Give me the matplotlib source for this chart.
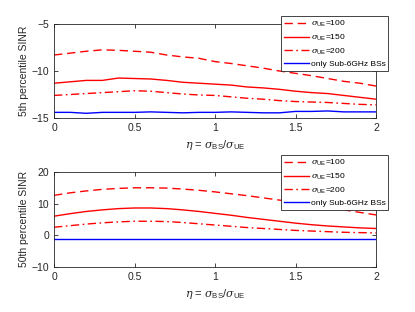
import matplotlib
matplotlib.use('Agg')
import matplotlib.pyplot as plt

plt.rcParams['font.family'] = ['Liberation Sans', 'DejaVu Sans']
plt.rcParams['mathtext.fontset'] = 'custom'
plt.rcParams['mathtext.it'] = 'DejaVu Serif:italic'
plt.rcParams['mathtext.rm'] = 'Liberation Sans'

# eta values
eta = [0.0, 0.1, 0.2, 0.3, 0.4, 0.5, 0.6, 0.7, 0.8, 0.9, 1.0,
       1.1, 1.2, 1.3, 1.4, 1.5, 1.6, 1.7, 1.8, 1.9, 2.0]

# 5th percentile SINR
p5_100 = [-8.3, -8.1, -7.9, -7.75, -7.8, -7.9, -8.0, -8.3, -8.5, -8.65, -9.0,
          -9.2, -9.45, -9.7, -10.0, -10.25, -10.5, -10.8, -11.1, -11.3, -11.6]
p5_150 = [-11.3, -11.15, -11.0, -11.0, -10.75, -10.8, -10.85, -11.0, -11.2, -11.3, -11.4,
          -11.5, -11.7, -11.8, -11.95, -12.15, -12.3, -12.4, -12.6, -12.8, -13.0]
p5_200 = [-12.6, -12.5, -12.4, -12.3, -12.2, -12.1, -12.15, -12.3, -12.45, -12.55, -12.6,
          -12.75, -12.9, -13.0, -13.15, -13.25, -13.3, -13.35, -13.45, -13.55, -13.6]
p5_sub6 = [-14.4, -14.4, -14.5, -14.4, -14.4, -14.4, -14.35, -14.4, -14.45, -14.4, -14.4,
           -14.35, -14.4, -14.45, -14.45, -14.3, -14.3, -14.25, -14.35, -14.35, -14.35]

# 50th percentile SINR
p50_100 = [12.6, 13.4, 14.0, 14.5, 14.8, 15.0, 15.0, 14.9, 14.6, 14.2, 13.7,
           13.1, 12.5, 11.8, 11.1, 10.4, 9.6, 8.8, 8.0, 7.2, 6.4]
p50_150 = [6.0, 6.8, 7.5, 8.0, 8.4, 8.6, 8.6, 8.4, 8.0, 7.5, 6.9,
           6.3, 5.6, 5.0, 4.4, 3.8, 3.3, 2.9, 2.6, 2.3, 2.1]
p50_200 = [2.5, 3.0, 3.5, 3.9, 4.2, 4.4, 4.4, 4.3, 4.0, 3.6, 3.2,
           2.8, 2.4, 2.1, 1.8, 1.5, 1.3, 1.1, 0.9, 0.8, 0.7]
p50_sub6 = [-1.2] * 21

labels = [r'$\sigma_{\rm UE}$=100', r'$\sigma_{\rm UE}$=150',
          r'$\sigma_{\rm UE}$=200', 'only Sub-6GHz BSs']

fig = plt.figure(figsize=(4.15, 3.12), dpi=100)
W, H = 415, 312
ax1 = fig.add_axes([54 / W, 1 - 118 / H, 322 / W, 94 / H])
ax2 = fig.add_axes([54 / W, 1 - 266.7 / H, 322 / W, 94.7 / H])

panels = [
    (ax1, [p5_100, p5_150, p5_200, p5_sub6], (-15, -5), [-15, -10, -5],
     '5th percentile SINR', 16),
    (ax2, [p50_100, p50_150, p50_200, p50_sub6], (-10, 20), [-10, 0, 10, 20],
     '50th percentile SINR', 155),
]
edge = '#262626'
for ax, ys, ylim, yt, ylab, legtop in panels:
    ax.plot(eta, ys[0], color='red', linestyle=(0, (6, 3.5)), lw=1.0)
    ax.plot(eta, ys[1], color='red', linestyle='-', lw=1.0)
    ax.plot(eta, ys[2], color='red', linestyle=(0, (6, 2.5, 1.2, 2.5)), lw=1.0)
    ax.plot(eta, ys[3], color='blue', linestyle='-', lw=1.0)
    ax.set_xlim(0, 2)
    ax.set_ylim(*ylim)
    ax.set_xticks([0, 0.5, 1, 1.5, 2])
    ax.set_xticklabels(['0', '0.5', '1', '1.5', '2'])
    ax.set_yticks(yt)
    ax.tick_params(direction='in', top=True, right=True, labelsize=7.5,
                   colors=edge, length=3, width=0.6)
    for s in ax.spines.values():
        s.set_color(edge)
        s.set_linewidth(0.6)
    ax.set_ylabel(ylab, fontsize=7.5, color=edge, labelpad=2)
    ax.set_xlabel(r'$\eta$ = $\sigma_{\rm BS}/\sigma_{\rm UE}$', fontsize=8,
                  color=edge, labelpad=4)
    leg = ax.legend(labels, loc='upper left',
                    bbox_to_anchor=(281 / W, 1 - legtop / H),
                    bbox_transform=fig.transFigure, fontsize=6,
                    fancybox=False, framealpha=1, edgecolor=edge,
                    handlelength=3.0, handletextpad=0.3, labelspacing=0.45,
                    borderpad=0.3, borderaxespad=0)
    leg.get_frame().set_linewidth(0.6)

fig.savefig('out.png', dpi=100)
